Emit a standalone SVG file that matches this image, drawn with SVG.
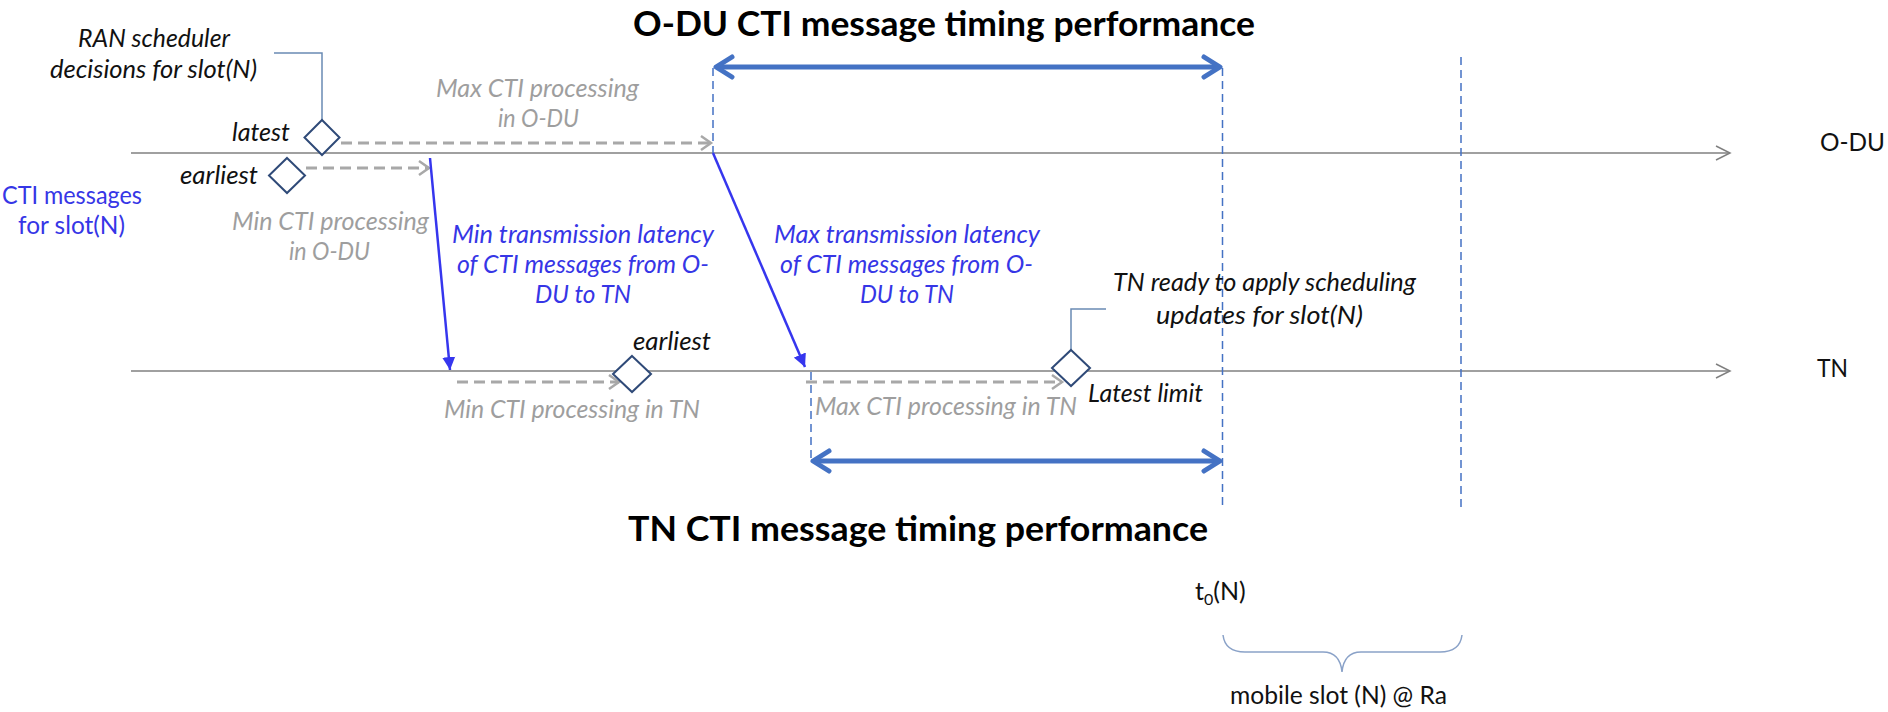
<svg xmlns="http://www.w3.org/2000/svg" width="1888" height="712" viewBox="0 0 1888 712">
<style>
text { font-family: Lato, "Liberation Sans", sans-serif; }
.lbl { font-size: 25px; font-style: italic; fill: #111; }
.lbl.gray { fill: #9e9e9e; }
.lbl.blue { fill: #3636e6; }
.title { font-size: 34px; font-weight: bold; fill: #000; }
.plain { font-size: 25px; fill: #111; }
.pblue { font-size: 25px; fill: #3636e6; }
.axis { stroke: #808080; stroke-width: 1.5; fill: none; }
.dash { stroke: #a8a8a8; stroke-width: 3; stroke-dasharray: 11 6; fill: none; }
.tx { stroke: #3636ee; stroke-width: 2.5; fill: none; }
.dbl { stroke: #4472c4; stroke-width: 5; fill: none; }
.vdash { stroke: #4472c4; stroke-width: 1.5; stroke-dasharray: 8 5; fill: none; }
.call { stroke: #6a8ab4; stroke-width: 1.5; fill: none; }
.brace { stroke: #8aa2c8; stroke-width: 1.5; fill: none; }
.dia { fill: #fff; stroke: #2f4a78; stroke-width: 2; }
</style>
<defs>
<marker id="axArr" markerUnits="userSpaceOnUse" markerWidth="18" markerHeight="18" refX="15" refY="8" orient="auto" viewBox="0 0 18 16">
<path d="M1,1 L15,8 L1,15" fill="none" stroke="#808080" stroke-width="1.5"/>
</marker>
<marker id="grArr" markerUnits="userSpaceOnUse" markerWidth="14" markerHeight="18" refX="11" refY="8" orient="auto" viewBox="0 0 14 16">
<path d="M1,1 L11,8 L1,15" fill="none" stroke="#a8a8a8" stroke-width="2.5"/>
</marker>
<marker id="txArr" markerUnits="userSpaceOnUse" markerWidth="14" markerHeight="14" refX="13" refY="6.5" orient="auto" viewBox="0 0 14 13">
<path d="M0,0 L13,6.5 L0,13 Z" fill="#3636ee"/>
</marker>
<marker id="dblArr" markerUnits="userSpaceOnUse" markerWidth="24" markerHeight="26" refX="19" refY="13" orient="auto-start-reverse" viewBox="0 0 24 26">
<path d="M3,3 L19,13 L3,23" fill="none" stroke="#4472c4" stroke-width="5" stroke-linecap="round" stroke-linejoin="round"/>
</marker>
</defs>

<g id="connectors">
<line class="axis" x1="131" y1="153" x2="1730" y2="153" marker-end="url(#axArr)"/>
<line class="axis" x1="131" y1="371" x2="1730" y2="371" marker-end="url(#axArr)"/>
<line class="vdash" x1="713" y1="68" x2="713" y2="153"/>
<line class="vdash" x1="811" y1="372" x2="811" y2="461"/>
<line class="vdash" x1="1222.5" y1="68" x2="1222.5" y2="510"/>
<line class="vdash" x1="1461" y1="57" x2="1461" y2="510"/>
<line class="dash" x1="341" y1="143" x2="711" y2="143" marker-end="url(#grArr)"/>
<line class="dash" x1="306" y1="168" x2="429" y2="168" marker-end="url(#grArr)"/>
<line class="dash" x1="457" y1="382" x2="619" y2="382" marker-end="url(#grArr)"/>
<line class="dash" x1="806" y1="382" x2="1062" y2="382" marker-end="url(#grArr)"/>
<line class="tx" x1="430" y1="158" x2="450" y2="370" marker-end="url(#txArr)"/>
<line class="tx" x1="713" y1="153" x2="805" y2="367" marker-end="url(#txArr)"/>
<line class="dbl" x1="716" y1="67" x2="1220" y2="67" marker-start="url(#dblArr)" marker-end="url(#dblArr)"/>
<line class="dbl" x1="813" y1="461" x2="1220" y2="461" marker-start="url(#dblArr)" marker-end="url(#dblArr)"/>
<path class="call" d="M274,53 L322,53 L322,120"/>
<path class="call" d="M1106,309 L1071,309 L1071,350"/>
<path class="brace" d="M1223,635 Q1225,652 1245,652 L1323,652 Q1340,652 1342,672 Q1344,652 1361,652 L1440,652 Q1460,652 1462,635"/>
</g>

<g id="title-odu"><text class="title" x="633" y="36" textLength="622" lengthAdjust="spacingAndGlyphs">O-DU CTI message timing performance</text></g>
<g id="title-tn"><text class="title" x="628" y="541" textLength="580" lengthAdjust="spacingAndGlyphs">TN CTI message timing performance</text></g>

<g id="label-odu"><text class="plain" x="1820" y="151" textLength="65" lengthAdjust="spacingAndGlyphs">O-DU</text></g>
<g id="label-tn"><text class="plain" x="1817" y="377" textLength="31" lengthAdjust="spacingAndGlyphs">TN</text></g>

<g id="ran-scheduler">
<text class="lbl" x="78" y="47" textLength="152" lengthAdjust="spacingAndGlyphs">RAN scheduler</text>
<text class="lbl" x="50" y="78" textLength="207" lengthAdjust="spacingAndGlyphs">decisions for slot(N)</text>
</g>

<g id="odu-latest">
<polygon class="dia" points="322,120 339.5,137.5 322,155 304.5,137.5"/>
<text class="lbl" x="232" y="141" textLength="58" lengthAdjust="spacingAndGlyphs">latest</text>
</g>
<g id="odu-earliest">
<polygon class="dia" points="287,158 305,175.5 287,193 269,175.5"/>
<text class="lbl" x="180" y="184" textLength="78" lengthAdjust="spacingAndGlyphs">earliest</text>
</g>

<g id="cti-messages">
<text class="pblue" x="2" y="204" textLength="140" lengthAdjust="spacingAndGlyphs">CTI messages</text>
<text class="pblue" x="18" y="234" textLength="107" lengthAdjust="spacingAndGlyphs">for slot(N)</text>
</g>

<g id="max-cti-odu">
<text class="lbl gray" x="436" y="97" textLength="203" lengthAdjust="spacingAndGlyphs">Max CTI processing</text>
<text class="lbl gray" x="498" y="127" textLength="81" lengthAdjust="spacingAndGlyphs">in O-DU</text>
</g>
<g id="min-cti-odu">
<text class="lbl gray" x="232" y="230" textLength="197" lengthAdjust="spacingAndGlyphs">Min CTI processing</text>
<text class="lbl gray" x="289" y="260" textLength="81" lengthAdjust="spacingAndGlyphs">in O-DU</text>
</g>

<g id="min-tx">
<text class="lbl blue" x="452" y="243" textLength="262" lengthAdjust="spacingAndGlyphs">Min transmission latency</text>
<text class="lbl blue" x="457" y="273" textLength="252" lengthAdjust="spacingAndGlyphs">of CTI messages from O-</text>
<text class="lbl blue" x="535" y="303" textLength="96" lengthAdjust="spacingAndGlyphs">DU to TN</text>
</g>
<g id="max-tx">
<text class="lbl blue" x="774" y="243" textLength="266" lengthAdjust="spacingAndGlyphs">Max transmission latency</text>
<text class="lbl blue" x="780" y="273" textLength="253" lengthAdjust="spacingAndGlyphs">of CTI messages from O-</text>
<text class="lbl blue" x="860" y="303" textLength="94" lengthAdjust="spacingAndGlyphs">DU to TN</text>
</g>

<g id="tn-earliest">
<polygon class="dia" points="632,356 651,374 632,392 613,374"/>
<text class="lbl" x="633" y="350" textLength="78" lengthAdjust="spacingAndGlyphs">earliest</text>
</g>
<g id="min-cti-tn"><text class="lbl gray" x="444" y="418" textLength="256" lengthAdjust="spacingAndGlyphs">Min CTI processing in TN</text></g>
<g id="max-cti-tn"><text class="lbl gray" x="815" y="415" textLength="262" lengthAdjust="spacingAndGlyphs">Max CTI processing in TN</text></g>

<g id="tn-ready">
<polygon class="dia" points="1071,350 1090,368 1071,386 1052,368"/>
<text class="lbl" x="1088" y="402" textLength="115" lengthAdjust="spacingAndGlyphs">Latest limit</text>
<text class="lbl" x="1113" y="291" textLength="303" lengthAdjust="spacingAndGlyphs">TN ready to apply scheduling</text>
<text class="lbl" x="1156" y="324" textLength="207" lengthAdjust="spacingAndGlyphs">updates for slot(N)</text>
</g>

<g id="t0"><text class="plain" x="1195" y="600">t<tspan font-size="16" dy="5">0</tspan><tspan dy="-5">(N)</tspan></text></g>
<g id="mobile-slot"><text class="plain" x="1230" y="704" textLength="217" lengthAdjust="spacingAndGlyphs">mobile slot (N) @ Ra</text></g>
</svg>
